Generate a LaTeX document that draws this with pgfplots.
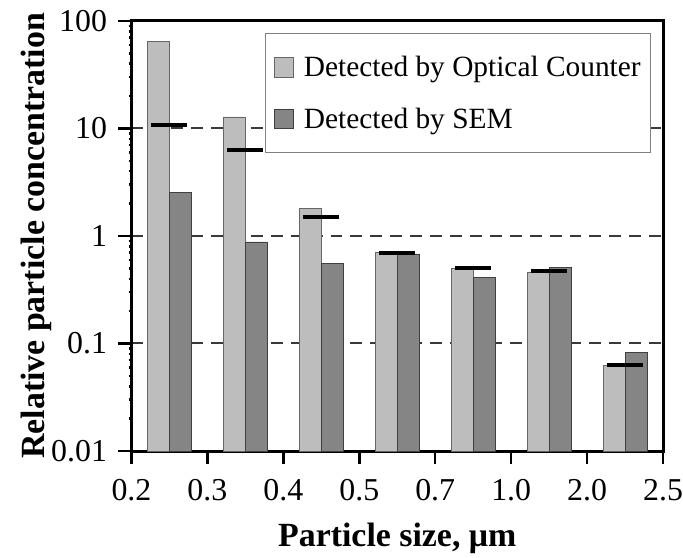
\documentclass[border=0pt]{standalone}
\usepackage{fontspec}
\setmainfont{Liberation Serif}
\usepackage{pgfplots}
\pgfplotsset{compat=1.18}
\definecolor{lightbar}{gray}{0.74}
\definecolor{darkbar}{gray}{0.52}
\begin{document}
\begin{tikzpicture}
\begin{axis}[
  scale only axis,
  width=534pt, height=432pt,
  xmin=0, xmax=7,
  ymode=log, ymin=0.01, ymax=100,
  log origin=infty,
  xtick={0,1,2,3,4,5,6,7},
  xticklabels={0.2,0.3,0.4,0.5,0.7,1.0,2.0,2.5},
  ytick={0.01,0.1,1,10,100},
  yticklabels={0.01,0.1,1,10,100},
  minor ytick={},
  /pgf/number format/assume math mode=true,
  tick align=outside,
  xtick pos=bottom, ytick pos=left,
  major tick length=13pt,
  tick style={line width=2.5pt, black},
  axis line style={line width=3pt},
  ymajorgrids,
  major grid style={dash pattern=on 12pt off 8pt, line width=2pt, gray!45!black},
  tick label style={font=\fontsize{32}{37}\selectfont},
  yticklabel style={xshift=-8pt},
  xticklabel style={yshift=-12pt},
  xlabel={\textbf{Particle size, μm}},
  ylabel={\textbf{Relative particle concentration}},
  label style={font=\fontsize{34}{39}\selectfont},
  xlabel style={at={(rel axis cs:0.5,0)}, anchor=base, yshift=-96pt},
  ylabel style={yshift=-7pt},
  legend style={font=\fontsize{29.5}{34}\selectfont, draw=gray, line width=1pt,
    at={(rel axis cs:1,1)}, anchor=north east, xshift=-12pt, yshift=-12pt,
    inner xsep=8pt, inner ysep=21pt, row sep=26pt,
    nodes={inner sep=2pt}},
  legend cell align=left,
  legend image code/.code={\draw[#1, line width=0.8pt] (0pt,-10pt) rectangle (20pt,10pt); \path[draw=none, fill=none] (0pt,0pt) -- (28pt,0pt);},
]
\addplot[ybar, bar width=0.29, bar shift=-0.145, fill=lightbar, draw=gray!80!black, line width=0.8pt]
  coordinates {(0.5,65) (1.5,12.8) (2.5,1.80) (3.5,0.71) (4.5,0.50) (5.5,0.46) (6.5,0.062)};
\addlegendentry{Detected by Optical Counter}
\addplot[ybar, bar width=0.29, bar shift=0.145, fill=darkbar, draw=gray!50!black, line width=0.8pt]
  coordinates {(0.5,2.55) (1.5,0.88) (2.5,0.56) (3.5,0.68) (4.5,0.41) (5.5,0.51) (6.5,0.083)};
\addlegendentry{Detected by SEM}
\addplot[only marks, mark=-, mark size=18pt, mark options={line width=4.2pt, black}, forget plot]
  coordinates {(0.5,10.7) (1.5,6.3) (2.5,1.49) (3.5,0.69) (4.5,0.50) (5.5,0.47) (6.5,0.063)};
\end{axis}
\pgfresetboundingbox
\path[use as bounding box] (current axis.south west) ++(-132pt,-107pt) rectangle ++(686pt,560pt);
\end{tikzpicture}
\end{document}
